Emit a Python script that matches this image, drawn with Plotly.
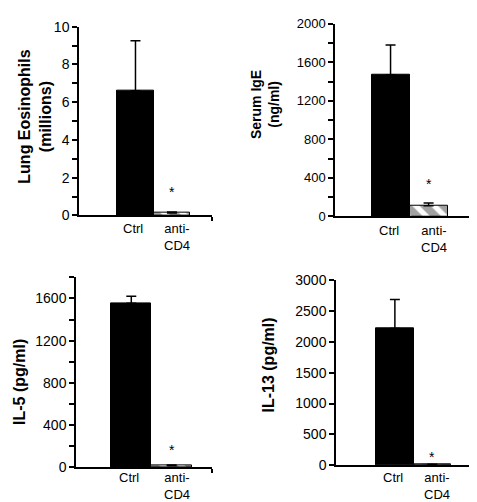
import plotly.graph_objects as go

# ---- data ----
categories = ["Ctrl", "anti-<br>CD4"]
eos_vals = [6.6, 0.13]
eos_err = [2.65, 0.05]
ige_vals = [1470, 110]
ige_err = [310, 30]
il5_vals = [1555, 15]
il5_err = [65, 5]
il13_vals = [2220, 10]
il13_err = [470, 5]

titles = ["Lung Eosinophils<br>(millions)", "Serum IgE<br>(ng/ml)", "IL-5 (pg/ml)", "IL-13 (pg/ml)"]

W, H = 477, 502
def px_x(a, b):
    return [a / W, b / W]
def px_y(top, bottom):
    return [1 - bottom / H, 1 - top / H]

panels = [
    dict(vals=eos_vals, err=eos_err, xd=px_x(71, 204), yd=px_y(11, 206), xr=[-1.55, 2.1],
         yr=[0, 10], dtick=2, minor=1, tfs=14, title_xy=(27, 104), title_fs=16,
         star_shift=10, lab_shift=-4),
    dict(vals=ige_vals, err=ige_err, xd=px_x(327, 475), yd=px_y(8, 207), xr=[-1.46, 2.43],
         yr=[0, 2000], dtick=400, minor=200, tfs=13, title_xy=(257, 92), title_fs=14,
         star_shift=9, lab_shift=-5),
    dict(vals=il5_vals, err=il5_err, xd=px_x(68, 204), yd=px_y(270, 466), xr=[-1.37, 2.0],
         yr=[0, 1800], dtick=400, minor=200, tfs=14, title_xy=(12, 378), title_fs=16,
         star_shift=5, lab_shift=-1),
    dict(vals=il13_vals, err=il13_err, xd=px_x(328, 475), yd=px_y(273, 464), xr=[-1.57, 2.35],
         yr=[0, 3000], dtick=500, minor=None, tfs=14, title_xy=(260, 361), title_fs=16,
         star_shift=-3, lab_shift=-3),
]

FONT = "Liberation Sans, Arial, sans-serif"
fig = go.Figure()
layout = dict(width=W, height=H, margin=dict(l=0, r=0, t=0, b=0), showlegend=False,
              plot_bgcolor="white", paper_bgcolor="white", bargap=0,
              font=dict(family=FONT, color="black"))
annotations = []

for i, p in enumerate(panels):
    n = i + 1
    xa = "x" if n == 1 else f"x{n}"
    ya = "y" if n == 1 else f"y{n}"
    fig.add_trace(go.Bar(
        x=[0, 1], y=p["vals"], width=[1, 1], xaxis=xa, yaxis=ya,
        marker=dict(color=["black", "white"], line=dict(color="black", width=1),
                    pattern=dict(shape=["", "\\"], fgcolor="black", bgcolor="white",
                                 size=13, solidity=0.6)),
        error_y=dict(type="data", array=p["err"], arrayminus=[0, 0], symmetric=False,
                     color="black", thickness=1.5, width=5),
    ))
    xkey = "xaxis" if n == 1 else f"xaxis{n}"
    ykey = "yaxis" if n == 1 else f"yaxis{n}"
    layout[xkey] = dict(domain=p["xd"], range=p["xr"], anchor=ya, showline=True,
                        linecolor="black", linewidth=1.5, showgrid=False, zeroline=False,
                        showticklabels=False, ticks="",
                        minor=dict(tickmode="array", tickvals=[p["xr"][1]], ticks="outside",
                                   ticklen=4, tickcolor="black", tickwidth=1.5))
    ydict = dict(domain=p["yd"], range=p["yr"], anchor=xa, showline=True, linecolor="black",
                 linewidth=1.5, showgrid=False, zeroline=False, ticks="outside", ticklen=5,
                 tickwidth=1.5, tickcolor="black", dtick=p["dtick"], tick0=0,
                 tickfont=dict(size=p["tfs"], family=FONT, color="black"))
    if p["minor"]:
        ydict["minor"] = dict(dtick=p["minor"], tick0=0, ticks="outside", ticklen=5,
                              tickwidth=1.5, tickcolor="black")
    layout[ykey] = ydict
    tx, ty = p["title_xy"]
    annotations.append(dict(text=f"<b>{titles[i]}</b>", xref="paper", yref="paper",
                            x=tx / W, y=1 - ty / H, xanchor="center", yanchor="middle",
                            textangle=-90, showarrow=False,
                            font=dict(size=p["title_fs"], family=FONT, color="black")))
    annotations.append(dict(text="*", xref=xa, yref=ya, x=1, y=p["vals"][1] + p["err"][1],
                            xanchor="center", yanchor="bottom", yshift=p["star_shift"],
                            showarrow=False, font=dict(size=14, family=FONT, color="black")))
    for ci, cat in enumerate(categories):
        annotations.append(dict(text=cat, xref=xa, yref=f"{ya} domain", x=ci, y=0,
                                xanchor="center", yanchor="top", yshift=p["lab_shift"],
                                xshift=(-2 if ci == 0 else 5), showarrow=False,
                                font=dict(size=13, family=FONT, color="black")))

layout["annotations"] = annotations
fig.update_layout(**layout)
fig.write_html("out.html")
